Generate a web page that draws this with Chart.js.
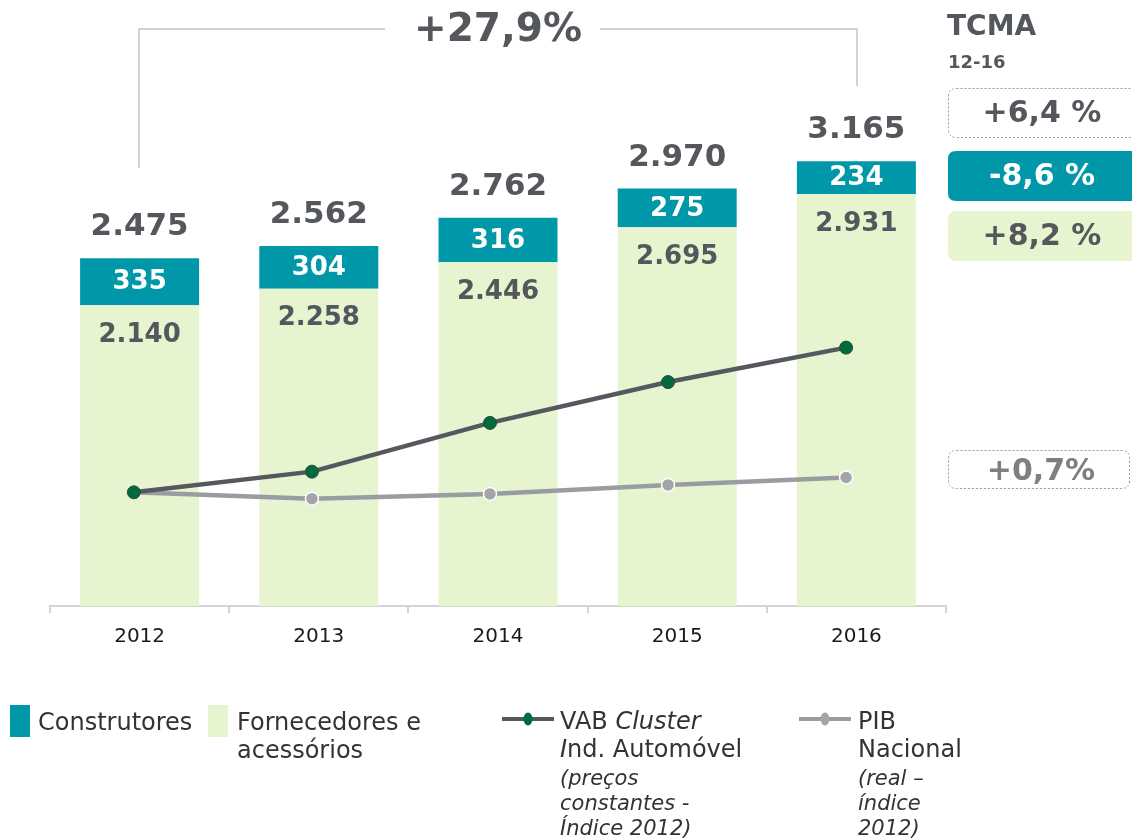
<!DOCTYPE html>
<html>
<head>
<meta charset="utf-8">
<script src="https://cdn.jsdelivr.net/npm/chart.js@4"></script>
<style>
  html, body { margin: 0; padding: 0; background: #fff; }
  #wrap { position: relative; width: 1132px; height: 839px; overflow: hidden; font-family: "DejaVu Sans", Verdana, sans-serif; color: #333; }
  #chartCanvas { position: absolute; left: 0; top: 0; }
  .lg { position: absolute; font-size: 24px; line-height: 28px; color: #333; white-space: nowrap; }
  .lg .sub { font-style: italic; font-size: 21px; line-height: 25px; display: block; margin-top: 3px; }
  .sw { position: absolute; width: 20px; height: 32px; }
</style>
</head>
<body>
<div id="wrap">
  <canvas id="chartCanvas" width="1132" height="839"></canvas>

  <div class="sw" style="left:10px; top:705px; background:#0098A9;"></div>
  <div class="lg" style="left:38px; top:708px;">Construtores</div>

  <div class="sw" style="left:208px; top:705px; background:#E6F5D0;"></div>
  <div class="lg" style="left:237px; top:708px;">Fornecedores e<br>acessórios</div>

  <canvas id="lgVab" width="54" height="20" style="position:absolute; left:501px; top:709px;"></canvas>
  <div class="lg" style="left:560px; top:707px;">VAB <i>Cluster</i><br><i>I</i>nd. Automóvel
    <span class="sub">(preços<br>constantes -<br>Índice 2012)</span></div>

  <canvas id="lgPib" width="54" height="20" style="position:absolute; left:798px; top:709px;"></canvas>
  <div class="lg" style="left:858px; top:707px;">PIB<br>Nacional
    <span class="sub">(real –<br>índice<br>2012)</span></div>
</div>

<script>
// dados
const categorias = ["2012", "2013", "2014", "2015", "2016"];
const construtores = [335, 304, 316, 275, 234];
const fornecedores = [2140, 2258, 2446, 2695, 2931];
const totais = [2475, 2562, 2762, 2970, 3165];
const vabIndice = [100, 103.9, 113.1, 120.8, 127.3];   // VAB Cluster, índice 2012 = 100
const pibIndice = [100, 98.8, 99.7, 101.4, 102.8];     // PIB real, índice 2012 = 100
const variacaoTotal = "+27,9%";
const tcmaLabels = ["+6,4 %", "-8,6 %", "+8,2 %"];    // total, construtores, fornecedores
const tcmaPib = "+0,7%";

const TEAL = "#0098A9";
const VERDE = "#E6F5D0";
const ESCURO = "#54575C";
const FONT = '"DejaVu Sans", Verdana, sans-serif';

// 2475 -> "2.475"
function fmt(v) {
  if (v < 1000) return String(v);
  return Math.floor(v / 1000) + "." + String(v % 1000).padStart(3, "0");
}

function roundRect(ctx, x, y, w, h, r) {
  ctx.beginPath();
  ctx.moveTo(x + r, y);
  ctx.lineTo(x + w - r, y);
  ctx.quadraticCurveTo(x + w, y, x + w, y + r);
  ctx.lineTo(x + w, y + h - r);
  ctx.quadraticCurveTo(x + w, y + h, x + w - r, y + h);
  ctx.lineTo(x + r, y + h);
  ctx.quadraticCurveTo(x, y + h, x, y + h - r);
  ctx.lineTo(x, y + r);
  ctx.quadraticCurveTo(x, y, x + r, y);
  ctx.closePath();
}

const labelsPlugin = {
  id: "labels",
  afterDatasetsDraw(chart) {
    const ctx = chart.ctx;
    const fMeta = chart.getDatasetMeta(0);
    const cMeta = chart.getDatasetMeta(1);
    ctx.save();
    ctx.textAlign = "center";
    ctx.textBaseline = "middle";
    categorias.forEach((c, i) => {
      const fb = fMeta.data[i];
      const cb = cMeta.data[i];
      // total
      ctx.fillStyle = ESCURO;
      ctx.font = "bold 31px " + FONT;
      ctx.fillText(fmt(totais[i]), cb.x, cb.y - 31);
      // construtores
      ctx.fillStyle = "#fff";
      ctx.font = "bold 26px " + FONT;
      ctx.fillText(fmt(construtores[i]), cb.x, (cb.y + cb.base) / 2 + 1);
      // fornecedores
      ctx.fillStyle = ESCURO;
      ctx.fillText(fmt(fornecedores[i]), fb.x, fb.y + 30);
    });
    ctx.restore();
  },
  afterDraw(chart) {
    const ctx = chart.ctx;
    ctx.save();
    // chaveta de crescimento total
    ctx.strokeStyle = "#D2D2D2";
    ctx.lineWidth = 2;
    ctx.beginPath();
    ctx.moveTo(139, 168); ctx.lineTo(139, 29); ctx.lineTo(385, 29);
    ctx.moveTo(600, 29); ctx.lineTo(857, 29); ctx.lineTo(857, 86);
    ctx.stroke();
    ctx.fillStyle = ESCURO;
    ctx.textAlign = "center";
    ctx.textBaseline = "middle";
    ctx.font = "bold 39px " + FONT;
    ctx.fillText(variacaoTotal, 498, 31);

    // TCMA
    ctx.textAlign = "left";
    ctx.font = "bold 28px " + FONT;
    ctx.fillText("TCMA", 947, 28);
    ctx.font = "bold 18px " + FONT;
    ctx.fillText("12-16", 948, 63);

    ctx.textAlign = "center";
    ctx.font = "bold 30px " + FONT;
    // caixa total (tracejada)
    ctx.setLineDash([2, 2]);
    ctx.strokeStyle = "#9A9A9A";
    ctx.lineWidth = 1;
    roundRect(ctx, 948.5, 88.5, 200, 49, 8);
    ctx.stroke();
    ctx.setLineDash([]);
    ctx.fillStyle = ESCURO;
    ctx.fillText(tcmaLabels[0], 1042, 114);
    // construtores
    ctx.fillStyle = TEAL;
    roundRect(ctx, 948, 151, 200, 50, 8);
    ctx.fill();
    ctx.fillStyle = "#fff";
    ctx.fillText(tcmaLabels[1], 1042, 177);
    // fornecedores
    ctx.fillStyle = VERDE;
    roundRect(ctx, 948, 211, 200, 50, 8);
    ctx.fill();
    ctx.fillStyle = ESCURO;
    ctx.fillText(tcmaLabels[2], 1042, 237);
    // PIB
    ctx.setLineDash([2, 2]);
    ctx.strokeStyle = "#9A9A9A";
    roundRect(ctx, 948.5, 450.5, 181, 38, 8);
    ctx.stroke();
    ctx.setLineDash([]);
    ctx.fillStyle = "#7F7F7F";
    ctx.fillText(tcmaPib, 1041, 472);
    ctx.restore();
  }
};

const ctx = document.getElementById("chartCanvas").getContext("2d");
const chart = new Chart(ctx, {
  type: "bar",
  data: {
    labels: categorias,
    datasets: [
      { label: "Fornecedores e acessórios", data: fornecedores, backgroundColor: VERDE, stack: "s", order: 2,
        grouped: false, barPercentage: 0.664, categoryPercentage: 1 },
      { label: "Construtores", data: construtores, backgroundColor: TEAL, stack: "s", order: 2,
        grouped: false, barPercentage: 0.664, categoryPercentage: 1 },
      { type: "line", label: "VAB Cluster Ind. Automóvel", data: vabIndice.map((v, i) => ({ x: i, y: v })),
        xAxisID: "xl", yAxisID: "y2", order: 0, borderColor: "#55585E", borderWidth: 4.5, tension: 0,
        pointRadius: 6.5, pointBackgroundColor: "#006B3C", pointBorderColor: "#2E4A3C", pointBorderWidth: 1 },
      { type: "line", label: "PIB Nacional", data: pibIndice.map((v, i) => ({ x: i, y: v })),
        xAxisID: "xl", yAxisID: "y2", order: 1, borderColor: "#9A9CA1", borderWidth: 4.5, tension: 0,
        pointRadius: 6.5, pointBackgroundColor: "#A3A5AA", pointBorderColor: "#fff", pointBorderWidth: 1.5 }
    ]
  },
  options: {
    responsive: false,
    animation: false,
    layout: { padding: { left: 50, right: 186, top: 100, bottom: 0 } },
    plugins: { legend: { display: false }, tooltip: { enabled: false } },
    scales: {
      x: {
        stacked: true,
        offset: true,
        grid: { display: true, drawOnChartArea: false, drawTicks: true, tickLength: 7, color: "#D4D4D4", lineWidth: 2, offset: true },
        border: { display: true, color: "#D4D4D4", width: 2 },
        ticks: { font: { family: FONT, size: 20 }, color: "#1A1A1A", padding: 12 },
        afterFit: s => { s.height = 233; }
      },
      // eixo horizontal das linhas (pontos ligeiramente à esquerda do centro das barras)
      xl: { type: "linear", display: false, offset: false, min: -0.471, max: 4.561 },
      y: { stacked: true, display: false, min: 0, max: 3600 },
      y2: { display: false, stacked: false, min: 78.55, max: 174.02 }
    }
  },
  plugins: [labelsPlugin]
});

// símbolos da legenda das linhas
function legendLine(id, lineColor, dotColor) {
  const c = document.getElementById(id).getContext("2d");
  c.strokeStyle = lineColor;
  c.lineWidth = 4;
  c.beginPath(); c.moveTo(1, 10); c.lineTo(53, 10); c.stroke();
  c.fillStyle = dotColor;
  c.beginPath(); c.ellipse(27, 10, 4.5, 6.5, 0, 0, Math.PI * 2); c.fill();
}
legendLine("lgVab", "#55585E", "#006B3C");
legendLine("lgPib", "#9A9CA1", "#A3A5AA");
</script>
</body>
</html>
